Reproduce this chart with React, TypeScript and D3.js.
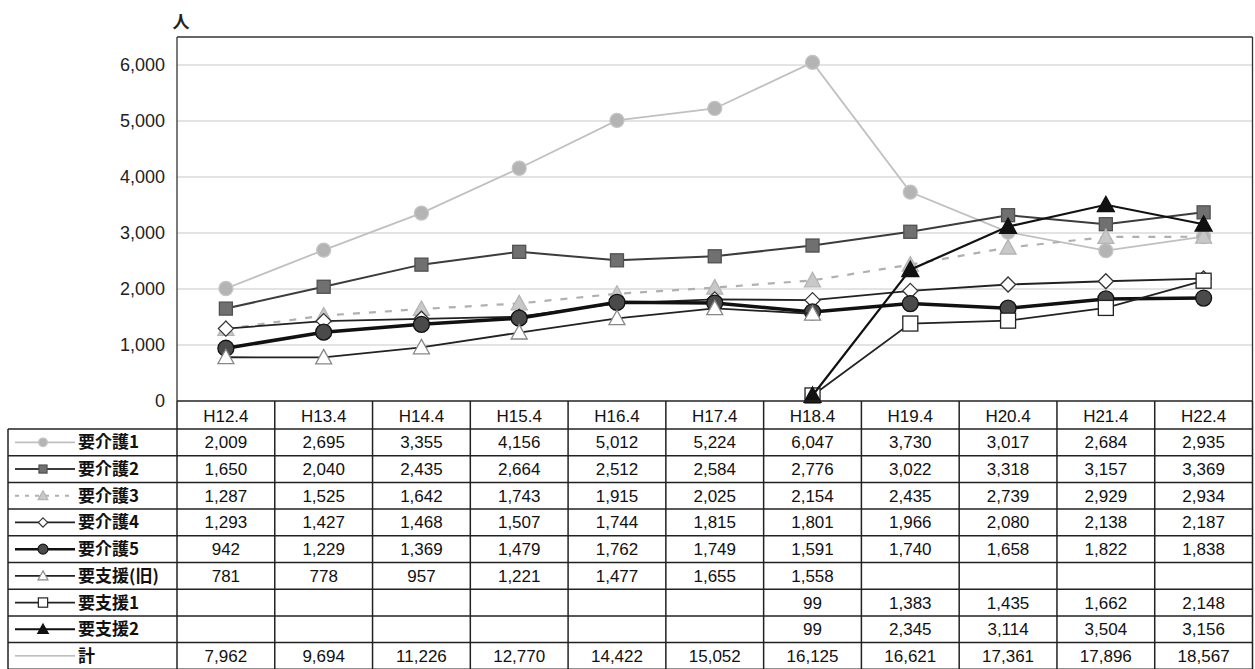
import React from "react";
import * as d3 from "d3";

const categories = ["H12.4", "H13.4", "H14.4", "H15.4", "H16.4", "H17.4", "H18.4", "H19.4", "H20.4", "H21.4", "H22.4"];
const seriesNames = ["要介護1", "要介護2", "要介護3", "要介護4", "要介護5", "要支援(旧)", "要支援1", "要支援2", "計"];
const kaigo1 = [2009, 2695, 3355, 4156, 5012, 5224, 6047, 3730, 3017, 2684, 2935];
const kaigo2 = [1650, 2040, 2435, 2664, 2512, 2584, 2776, 3022, 3318, 3157, 3369];
const kaigo3 = [1287, 1525, 1642, 1743, 1915, 2025, 2154, 2435, 2739, 2929, 2934];
const kaigo4 = [1293, 1427, 1468, 1507, 1744, 1815, 1801, 1966, 2080, 2138, 2187];
const kaigo5 = [942, 1229, 1369, 1479, 1762, 1749, 1591, 1740, 1658, 1822, 1838];
const shienOld: (number | null)[] = [781, 778, 957, 1221, 1477, 1655, 1558, null, null, null, null];
const shien1: (number | null)[] = [null, null, null, null, null, null, 99, 1383, 1435, 1662, 2148];
const shien2: (number | null)[] = [null, null, null, null, null, null, 99, 2345, 3114, 3504, 3156];
const total = [7962, 9694, 11226, 12770, 14422, 15052, 16125, 16621, 17361, 17896, 18567];
const yTicks = [0, 1000, 2000, 3000, 4000, 5000, 6000];

type Marker = "circle" | "square" | "triangle" | "diamond" | "none";
interface Style {
  stroke: string;
  width: number;
  dash?: string;
  marker: Marker;
  mFill: string;
  mStroke: string;
  mSize: number;
  plot: boolean;
}

const styles: Style[] = [
  { stroke: "#c0c0c0", width: 1.8, marker: "circle", mFill: "#b4b4b4", mStroke: "#c4c4c4", mSize: 7, plot: true },
  { stroke: "#3c3c3c", width: 2, marker: "square", mFill: "#707070", mStroke: "#505050", mSize: 6.5, plot: true },
  { stroke: "#b0b0b0", width: 2.2, dash: "7,9", marker: "triangle", mFill: "#c8c8c8", mStroke: "#b4b4b4", mSize: 8, plot: true },
  { stroke: "#222", width: 1.8, marker: "diamond", mFill: "#fff", mStroke: "#333", mSize: 7.5, plot: true },
  { stroke: "#111", width: 3.5, marker: "circle", mFill: "#4a4a4a", mStroke: "#111", mSize: 8, plot: true },
  { stroke: "#222", width: 1.8, marker: "triangle", mFill: "#fff", mStroke: "#888", mSize: 8, plot: true },
  { stroke: "#222", width: 1.8, marker: "square", mFill: "#fff", mStroke: "#222", mSize: 7.5, plot: true },
  { stroke: "#111", width: 2.2, marker: "triangle", mFill: "#111", mStroke: "#111", mSize: 8.5, plot: true },
  { stroke: "#aaa", width: 1.2, marker: "none", mFill: "none", mStroke: "none", mSize: 0, plot: false },
];

const seriesData: (number | null)[][] = [kaigo1, kaigo2, kaigo3, kaigo4, kaigo5, shienOld, shien1, shien2, total];

const W = 1255;
const H = 669;
const plotLeft = 177;
const plotRight = 1252.5;
const plotTop = 37;
const plotBottom = 401;
const tableLeft = 8;
const headerH = 28;
const rowH = 26.7;

function markerPath(type: Marker, cx: number, cy: number, s: number): JSX.Element | null {
  if (type === "circle") return <circle cx={cx} cy={cy} r={s} />;
  if (type === "square") return <rect x={cx - s} y={cy - s} width={2 * s} height={2 * s} />;
  if (type === "triangle")
    return <path d={`M${cx},${cy - s} L${cx + s},${cy + s * 0.8} L${cx - s},${cy + s * 0.8} Z`} />;
  if (type === "diamond") return <path d={`M${cx},${cy - s} L${cx + s},${cy} L${cx},${cy + s} L${cx - s},${cy} Z`} />;
  return null;
}

export default function App() {
  const x = d3.scaleBand<string>().domain(categories).range([plotLeft, plotRight]);
  const bw = x.bandwidth();
  const cx = (c: string) => (x(c) as number) + bw / 2;
  const y = d3.scaleLinear().domain([0, 6500]).range([plotBottom, plotTop]);
  const fmt = d3.format(",");
  const line = d3
    .line<number | null>()
    .defined((d) => d != null)
    .x((_, i) => cx(categories[i]))
    .y((d) => y(d as number));

  const numFont = "'Liberation Sans', Arial, sans-serif";
  const cjkFont = "'Noto Sans CJK JP', sans-serif";
  const tableBottom = plotBottom + headerH + rowH * seriesNames.length;

  return (
    <div style={{ position: "absolute", left: 0, top: 0 }}>
      <svg width={W} height={H} style={{ display: "block", background: "#fff" }}>
        {/* grid */}
        {yTicks.filter((t) => t > 0).map((t) => (
          <line key={t} x1={plotLeft} x2={plotRight} y1={y(t)} y2={y(t)} stroke="#c8c8c8" strokeWidth={1} />
        ))}
        {/* plot border */}
        <line x1={plotLeft} x2={plotRight} y1={plotTop} y2={plotTop} stroke="#333" strokeWidth={1.3} />
        <line x1={plotLeft} x2={plotLeft} y1={plotTop} y2={plotBottom} stroke="#333" strokeWidth={1.3} />
        <line x1={plotRight} x2={plotRight} y1={plotTop} y2={plotBottom} stroke="#333" strokeWidth={1.3} />
        {/* y tick labels */}
        {yTicks.map((t) => (
          <text key={t} x={165} y={y(t)} dy="0.35em" textAnchor="end" fontFamily={numFont} fontSize={18} fill="#222">
            {fmt(t)}
          </text>
        ))}
        <text x={181} y={22} dy="0.35em" textAnchor="middle" fontFamily={cjkFont} fontSize={17} fontWeight="bold" fill="#222">
          人
        </text>
        {/* series */}
        {seriesData.map((data, si) => {
          const st = styles[si];
          if (!st.plot) return null;
          return (
            <g key={si}>
              <path d={line(data) || ""} fill="none" stroke={st.stroke} strokeWidth={st.width} strokeDasharray={st.dash} />
              <g fill={st.mFill} stroke={st.mStroke} strokeWidth={1.3}>
                {data.map((d, i) =>
                  d == null ? null : <g key={i}>{markerPath(st.marker, cx(categories[i]), y(d), st.mSize)}</g>
                )}
              </g>
            </g>
          );
        })}
        {/* table */}
        <g>
          <line x1={plotLeft} x2={plotRight} y1={plotBottom} y2={plotBottom} stroke="#222" strokeWidth={1.5} />
          {[0, 1, 2, 3, 4, 5, 6, 7, 8, 9].map((r) => {
            const yy = plotBottom + headerH + r * rowH;
            return <line key={r} x1={tableLeft} x2={plotRight} y1={yy} y2={yy} stroke="#222" strokeWidth={1.5} />;
          })}
          <line x1={tableLeft} x2={tableLeft} y1={plotBottom + headerH} y2={tableBottom} stroke="#222" strokeWidth={1.5} />
          {categories.map((c) => (
            <line key={c} x1={x(c) as number} x2={x(c) as number} y1={plotBottom} y2={tableBottom} stroke="#222" strokeWidth={1.5} />
          ))}
          <line x1={plotRight} x2={plotRight} y1={plotBottom} y2={tableBottom} stroke="#222" strokeWidth={1.5} />
          {categories.map((c) => (
            <text key={c} x={cx(c)} y={plotBottom + headerH / 2 + 1} dy="0.35em" textAnchor="middle" fontFamily={numFont} fontSize={17} fill="#111">
              {c}
            </text>
          ))}
          {seriesNames.map((name, si) => {
            const st = styles[si];
            const rowY = plotBottom + headerH + si * rowH + rowH / 2;
            return (
              <g key={name}>
                <line x1={15} x2={75} y1={rowY} y2={rowY} stroke={st.stroke} strokeWidth={Math.min(st.width, 2.5)} strokeDasharray={st.dash ? "4,6" : undefined} />
                <g fill={st.mFill} stroke={st.mStroke} strokeWidth={1.2}>
                  {markerPath(st.marker, 43, rowY, st.mSize * 0.62)}
                </g>
                <text x={78} y={rowY} dy="0.35em" fontFamily={cjkFont} fontSize={17} fontWeight="bold" fill="#111">
                  {name}
                </text>
                {seriesData[si].map((d, i) =>
                  d == null ? null : (
                    <text key={i} x={cx(categories[i])} y={rowY} dy="0.35em" textAnchor="middle" fontFamily={numFont} fontSize={17} fill="#111">
                      {fmt(d)}
                    </text>
                  )
                )}
              </g>
            );
          })}
        </g>
      </svg>
    </div>
  );
}
